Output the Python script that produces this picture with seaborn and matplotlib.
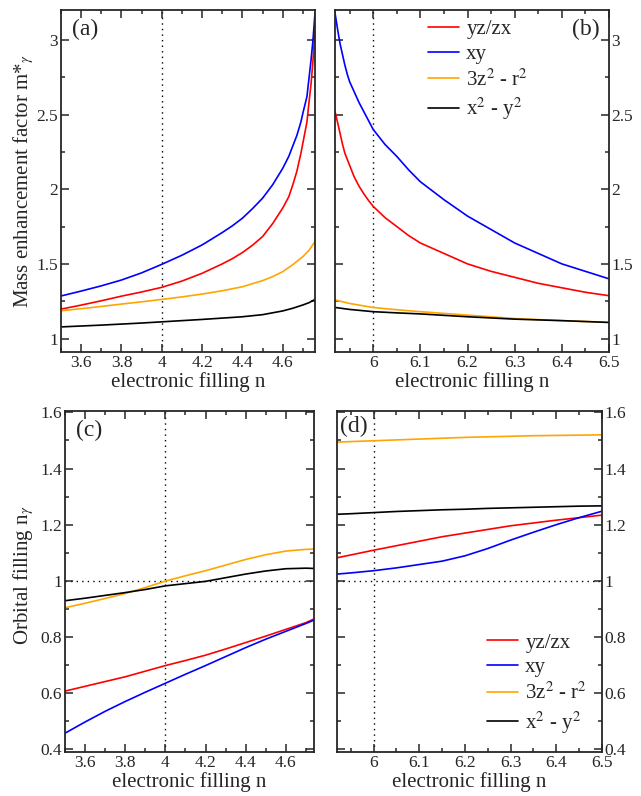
import numpy as np
import pandas as pd
import matplotlib
matplotlib.use("Agg")
import matplotlib.pyplot as plt
import seaborn as sns
from matplotlib.ticker import MultipleLocator

# ---------------- data ----------------
labels = ["yz/zx", "xy", "3z$^{2}$ - r$^{2}$", "x$^{2}$ - y$^{2}$"]
colors = ["#ff0000", "#0000ff", "#ffa500", "#000000"]

# (a) mass enhancement, n < 5
a_x = [3.5, 3.6, 3.7, 3.8, 3.9, 4.0, 4.1, 4.2, 4.3, 4.35, 4.4, 4.45, 4.5, 4.55,
       4.6, 4.63, 4.65, 4.67, 4.69, 4.7, 4.72, 4.73, 4.74, 4.75, 4.76]
a_red = [1.197, 1.224, 1.253, 1.284, 1.312, 1.343, 1.385, 1.437, 1.50, 1.535,
         1.576, 1.625, 1.683, 1.77, 1.874, 1.95, 2.03, 2.12, 2.24, 2.31, 2.45,
         2.58, 2.70, 2.86, 3.07]
a_blue = [1.285, 1.318, 1.353, 1.392, 1.44, 1.497, 1.558, 1.627, 1.71, 1.755,
          1.806, 1.87, 1.94, 2.03, 2.14, 2.22, 2.29, 2.36, 2.45, 2.51, 2.62,
          2.74, 2.86, 3.0, 3.18]
a_x_orange = [3.5, 3.6, 3.7, 3.8, 3.9, 4.0, 4.1, 4.2, 4.3, 4.4, 4.5, 4.55, 4.6,
              4.65, 4.7, 4.73, 4.76]
a_orange = [1.186, 1.2, 1.215, 1.231, 1.246, 1.262, 1.279, 1.298, 1.32, 1.347,
            1.388, 1.415, 1.448, 1.495, 1.549, 1.59, 1.65]
a_x_black = [3.5, 3.7, 3.9, 4.0, 4.2, 4.4, 4.5, 4.6, 4.65, 4.7, 4.73, 4.76]
a_black = [1.078, 1.09, 1.104, 1.112, 1.128, 1.146, 1.16, 1.185, 1.203, 1.225,
           1.24, 1.262]

# (b) mass enhancement, n > 5.9
b_x_red = [5.919, 5.925, 5.93, 5.935, 5.94, 5.95, 5.96, 5.97, 5.98, 5.99, 6.0,
           6.025, 6.05, 6.075, 6.1, 6.15, 6.2, 6.25, 6.3, 6.35, 6.4, 6.45, 6.5]
b_red = [2.52, 2.44, 2.37, 2.30, 2.24, 2.16, 2.08, 2.02, 1.97, 1.925, 1.885,
         1.81, 1.75, 1.69, 1.64, 1.57, 1.50, 1.45, 1.41, 1.37, 1.34, 1.31, 1.287]
b_x_blue = [5.918, 5.925, 5.93, 5.935, 5.94, 5.945, 5.95, 5.96, 5.97, 5.98,
            5.99, 6.0, 6.025, 6.05, 6.075, 6.1, 6.125, 6.15, 6.2, 6.25, 6.3,
            6.35, 6.4, 6.45, 6.5]
b_blue = [3.2, 3.06, 2.97, 2.90, 2.83, 2.77, 2.72, 2.65, 2.58, 2.52, 2.46, 2.40,
          2.30, 2.22, 2.13, 2.05, 1.99, 1.93, 1.82, 1.73, 1.64, 1.57, 1.50,
          1.45, 1.40]
b_x_lo = [5.92, 5.95, 6.0, 6.05, 6.1, 6.2, 6.3, 6.4, 6.5]
b_orange = [1.258, 1.235, 1.208, 1.193, 1.18, 1.157, 1.134, 1.12, 1.108]
b_black = [1.208, 1.195, 1.18, 1.172, 1.165, 1.146, 1.13, 1.12, 1.108]

# (c) orbital filling, n < 5
c_x = [3.5, 3.6, 3.7, 3.8, 3.9, 4.0, 4.1, 4.2, 4.3, 4.4, 4.5, 4.6, 4.7, 4.74]
c_red = [0.607, 0.624, 0.641, 0.658, 0.678, 0.698, 0.716, 0.735, 0.757, 0.78,
         0.803, 0.827, 0.851, 0.864]
c_blue = [0.457, 0.497, 0.535, 0.57, 0.603, 0.635, 0.667, 0.698, 0.73, 0.762,
          0.792, 0.82, 0.848, 0.86]
c_orange = [0.904, 0.92, 0.937, 0.955, 0.976, 0.999, 1.018, 1.036, 1.056,
            1.076, 1.093, 1.106, 1.112, 1.113]
c_black = [0.929, 0.938, 0.948, 0.958, 0.969, 0.982, 0.99, 0.998, 1.011, 1.024,
           1.035, 1.043, 1.045, 1.044]

# (d) orbital filling, n > 5.9
d_x = [5.92, 5.95, 6.0, 6.05, 6.1, 6.15, 6.2, 6.25, 6.3, 6.35, 6.4, 6.45, 6.5]
d_red = [1.082, 1.092, 1.109, 1.125, 1.141, 1.157, 1.17, 1.183, 1.196, 1.206,
         1.216, 1.225, 1.234]
d_blue = [1.024, 1.028, 1.036, 1.046, 1.058, 1.07, 1.089, 1.115, 1.145, 1.173,
          1.20, 1.225, 1.248]
d_orange = [1.494, 1.496, 1.499, 1.502, 1.505, 1.508, 1.511, 1.513, 1.515,
            1.517, 1.518, 1.519, 1.52]
d_black = [1.237, 1.239, 1.243, 1.247, 1.25, 1.253, 1.255, 1.258, 1.26, 1.262,
           1.264, 1.266, 1.267]

# ---------------- style ----------------
sns.set_theme(style="ticks")
plt.rcParams["font.family"] = ["Liberation Serif", "DejaVu Serif"]
plt.rcParams["mathtext.fontset"] = "stix"
plt.rcParams["axes.linewidth"] = 1.3

W, H = 641, 796
fig = plt.figure(figsize=(W / 100, H / 100), dpi=100)


def rect(l, r, t, b):
    return [l / W, (H - b) / H, (r - l) / W, (b - t) / H]


axA = fig.add_axes(rect(61, 315, 10, 352))
axB = fig.add_axes(rect(335, 609, 10, 352))
axC = fig.add_axes(rect(65, 314, 411, 752))
axD = fig.add_axes(rect(337, 602, 411, 752))


def make_df(series):
    rows = []
    for lab, xs, ys in series:
        for x, y in zip(xs, ys):
            rows.append({"n": x, "v": y, "orb": lab})
    return pd.DataFrame(rows)


panels = [
    (axA, [(labels[0], a_x, a_red), (labels[1], a_x, a_blue),
           (labels[2], a_x_orange, a_orange), (labels[3], a_x_black, a_black)]),
    (axB, [(labels[0], b_x_red, b_red), (labels[1], b_x_blue, b_blue),
           (labels[2], b_x_lo, b_orange), (labels[3], b_x_lo, b_black)]),
    (axC, [(labels[0], c_x, c_red), (labels[1], c_x, c_blue),
           (labels[2], c_x, c_orange), (labels[3], c_x, c_black)]),
    (axD, [(labels[0], d_x, d_red), (labels[1], d_x, d_blue),
           (labels[2], d_x, d_orange), (labels[3], d_x, d_black)]),
]

pal = dict(zip(labels, colors))
for ax, series in panels:
    df = make_df(series)
    sns.lineplot(data=df, x="n", y="v", hue="orb", hue_order=labels,
                 palette=pal, ax=ax, lw=1.2, sort=True, estimator=None,
                 legend=True)

# limits and reference lines
axA.set_xlim(3.5, 4.76)
axA.set_ylim(0.91, 3.2)
axB.set_xlim(5.919, 6.5)
axB.set_ylim(0.91, 3.2)
axC.set_xlim(3.5, 4.74)
axC.set_ylim(0.39, 1.605)
axD.set_xlim(5.92, 6.5)
axD.set_ylim(0.39, 1.605)

dot = dict(color="black", lw=1.0, ls=(0, (1, 3)), zorder=0)
axA.axvline(4, **dot)
axB.axvline(6, **dot)
axC.axvline(4, **dot)
axC.axhline(1, **dot)
axD.axvline(6, **dot)
axD.axhline(1, **dot)

for ax in (axA, axC):
    ax.xaxis.set_major_locator(MultipleLocator(0.2))
    ax.xaxis.set_minor_locator(MultipleLocator(0.1))
for ax in (axB, axD):
    ax.xaxis.set_major_locator(MultipleLocator(0.1))
    ax.xaxis.set_minor_locator(MultipleLocator(0.05))
for ax in (axA, axB):
    ax.yaxis.set_major_locator(MultipleLocator(0.5))
    ax.yaxis.set_minor_locator(MultipleLocator(0.25))
for ax in (axC, axD):
    ax.yaxis.set_major_locator(MultipleLocator(0.2))
    ax.yaxis.set_minor_locator(MultipleLocator(0.1))

fmt = matplotlib.ticker.FuncFormatter(lambda v, p: ("%g" % round(v, 3)))
for ax in (axA, axB, axC, axD):
    ax.xaxis.set_major_formatter(fmt)
    ax.yaxis.set_major_formatter(fmt)
    ax.tick_params(which="both", direction="in", top=True, right=True,
                   bottom=True, left=True, labelsize=12.5, width=1.1, pad=2)
    ax.tick_params(which="major", length=6)
    ax.tick_params(which="minor", length=3)
    ax.set_xlabel("electronic filling n", fontsize=15, labelpad=1)
    for s in ax.spines.values():
        s.set_visible(True)
        s.set_linewidth(1.3)

for ax in (axB, axD):
    ax.tick_params(axis="y", labelleft=False, labelright=True, pad=1.5)
    ax.set_ylabel("")

axA.set_ylabel(r"Mass enhancement factor m*$_{\gamma}$", fontsize=15)
axC.set_ylabel(r"Orbital filling n$_{\gamma}$", fontsize=15)
axA.yaxis.set_label_coords(-0.10, 0.5)
axC.yaxis.set_label_coords(-0.115, 0.52)

axA.text(0.045, 0.975, "(a)", transform=axA.transAxes, ha="left", va="top", fontsize=17)
axB.text(0.965, 0.975, "(b)", transform=axB.transAxes, ha="right", va="top", fontsize=17)
axC.text(0.045, 0.975, "(c)", transform=axC.transAxes, ha="left", va="top", fontsize=17)
axD.text(0.012, 0.985, "(d)", transform=axD.transAxes, ha="left", va="top", fontsize=17)

# legends
axA.get_legend().remove()
axC.get_legend().remove()
for ax, kw in ((axB, dict(loc="upper left", bbox_to_anchor=(0.285, 1.015))),
               (axD, dict(loc="lower left", bbox_to_anchor=(0.51, 0.005)))):
    h, l = ax.get_legend_handles_labels()
    ax.get_legend().remove()
    ax.legend(h, l, frameon=False, fontsize=15, handlelength=1.5,
              handletextpad=0.35, labelspacing=0.25, borderaxespad=0.3, **kw)

fig.savefig("out.png", dpi=100)
